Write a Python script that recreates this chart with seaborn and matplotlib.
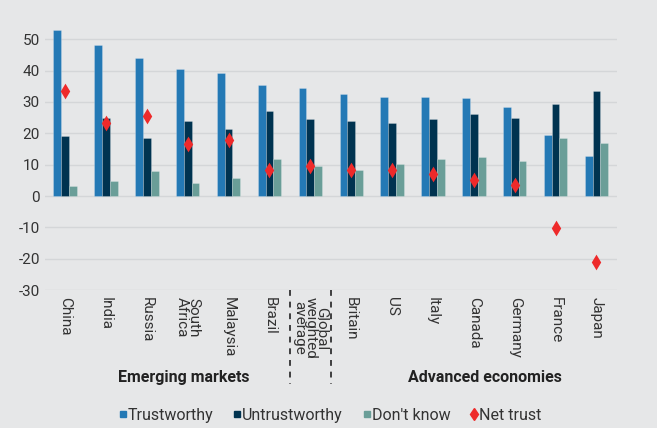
import seaborn as sns
import pandas as pd
import matplotlib.pyplot as plt
from matplotlib.lines import Line2D

countries = ["China", "India", "Russia", "South\nAfrica", "Malaysia", "Brazil",
             "Global\nweighted\naverage", "Britain", "US", "Italy", "Canada",
             "Germany", "France", "Japan"]
trustworthy = [52.9, 48.1, 44.1, 40.6, 39.1, 35.3, 34.4, 32.5, 31.7, 31.7, 31.3, 28.4, 19.4, 12.7]
untrustworthy = [19.2, 24.8, 18.5, 23.8, 21.3, 27.0, 24.7, 23.9, 23.3, 24.5, 26.1, 24.8, 29.5, 33.6]
dont_know = [3.2, 4.8, 8.0, 4.1, 5.7, 11.7, 9.7, 8.2, 10.1, 11.9, 12.4, 11.2, 18.4, 16.8]
net_trust = [33.6, 23.3, 25.5, 16.7, 17.8, 8.3, 9.7, 8.4, 8.3, 7.1, 5.1, 3.6, -10.3, -20.9]

series = ["Trustworthy", "Untrustworthy", "Don't know"]
colors = ["#2479b5", "#003350", "#6a9e98"]
red = "#ee2a2a"
bg = "#e6e7e8"

df = pd.DataFrame({"country": countries, "Trustworthy": trustworthy,
                   "Untrustworthy": untrustworthy, "Don't know": dont_know})
long = df.melt(id_vars="country", var_name="series", value_name="value")
net = pd.DataFrame({"country": countries, "net": net_trust})

plt.rcParams["font.family"] = ["Roboto", "DejaVu Sans"]
fig = plt.figure(figsize=(6.57, 4.28), dpi=100, facecolor=bg)
ax = fig.add_axes([0.068, 0.322, 0.871, 0.623])
ax.set_facecolor(bg)

sns.barplot(data=long, x="country", y="value", hue="series", hue_order=series,
            palette=colors, width=0.57, saturation=1, ax=ax, legend=False,
            edgecolor=(1, 1, 1, 0.25), linewidth=0.6)
sns.stripplot(data=net, x="country", y="net", jitter=False, marker="d",
              color=red, size=8, linewidth=0, ax=ax, zorder=5)

ax.set_ylim(-30, 55)
ax.set_xlim(-0.5, 13.5)
ax.set_yticks(range(-30, 51, 10))
ax.set_yticklabels([str(v) for v in range(-30, 51, 10)], fontsize=11, color="#333333")
ax.grid(axis="y", color="#d4d6d8", linewidth=1)
ax.set_axisbelow(True)
for s in ax.spines.values():
    s.set_visible(False)
ax.tick_params(length=0)
ax.tick_params(axis="x", pad=5)
ax.set_xlabel("")
ax.set_ylabel("")
for lab in ax.get_xticklabels():
    lab.set_rotation(270)
    lab.set_ha("center")
    lab.set_va("top")
    lab.set_fontsize(11)
    lab.set_color("#333333")
    lab.set_linespacing(0.72)

# dashed separators around the global average
for xv in [5.5, 6.5]:
    ax.plot([xv, xv], [-30, -60], ls=(0, (3.5, 3.5)), color="#222222", lw=1.2, clip_on=False)

fig.text(0.28, 0.119, "Emerging markets", ha="center", va="center",
         fontsize=11.5, fontweight="bold", color="#222222")
fig.text(0.738, 0.119, "Advanced economies", ha="center", va="center",
         fontsize=11.5, fontweight="bold", color="#222222")

handles = [Line2D([], [], marker="s", ls="", color=c, markersize=4.5) for c in colors]
handles.append(Line2D([], [], marker="d", ls="", color=red, markersize=6))
fig.legend(handles, series + ["Net trust"], loc="center", bbox_to_anchor=(0.503, 0.03),
           ncol=4, frameon=False, fontsize=11.5, handlelength=0.4, handletextpad=0.1,
           columnspacing=1.3, labelcolor="#333333")

fig.savefig("out.png", dpi=100, facecolor=bg)
